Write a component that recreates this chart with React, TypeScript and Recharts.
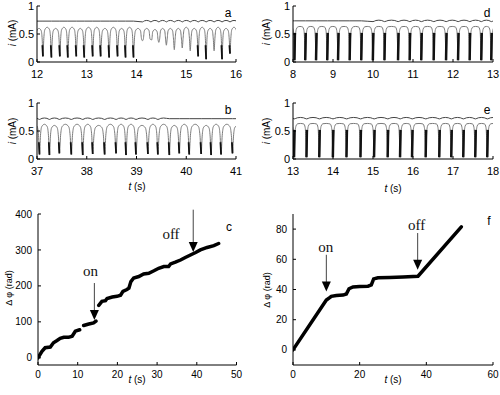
import React from 'react';
import { ComposedChart, Line, XAxis, YAxis, ReferenceLine, ReferenceDot } from 'recharts';

const SANS = '"Liberation Sans", Arial, sans-serif';
const SERIF = '"Liberation Serif", "Times New Roman", serif';

// ---- panel a: current traces, t 12-16 s
const aTroughs = [11.96, 12.12, 12.29, 12.46, 12.62, 12.79, 12.95, 13.12, 13.28, 13.45, 13.62, 13.78, 13.94,
  14.12, 14.29, 14.45, 14.6, 14.76, 14.92, 15.08, 15.24, 15.4, 15.56, 15.72, 15.88, 16.04];
const aDepths = [0.1, 0.1, 0.08, 0.1, 0.08, 0.1, 0.08, 0.1, 0.1, 0.08, 0.1, 0.08, 0.08,
  0.38, 0.4, 0.35, 0.3, 0.22, 0.25, 0.2, 0.1, 0.05, 0.2, 0.05, 0.15, 0.1];
const aPeaks = [0.6, 0.62, 0.6, 0.62, 0.62, 0.6, 0.62, 0.62, 0.6, 0.62, 0.6, 0.62, 0.6,
  0.6, 0.58, 0.6, 0.6, 0.6, 0.62, 0.6, 0.62, 0.6, 0.62, 0.6, 0.62];
const aUpper = { level: 0.73, wiggleFrom: 14.0, wiggleTo: 17 };

// ---- panel b: t 37-41 s
const bTroughs = [36.85, 37.05, 37.25, 37.45, 37.69, 37.92, 38.12, 38.36, 38.59, 38.79, 38.99,
  39.23, 39.43, 39.66, 39.86, 40.06, 40.3, 40.5, 40.7, 40.93, 41.13];
const bDepths = [0.1, 0.08, 0.07, 0.1, 0.08, 0.07, 0.09, 0.08, 0.1, 0.07, 0.08,
  0.09, 0.08, 0.07, 0.1, 0.08, 0.09, 0.07, 0.08, 0.1, 0.08];
const bPeaks = [0.62, 0.62, 0.6, 0.62, 0.62, 0.62, 0.6, 0.62, 0.62, 0.62, 0.6,
  0.62, 0.62, 0.6, 0.62, 0.62, 0.6, 0.62, 0.62, 0.6];
const bUpper = { level: 0.72, wiggleFrom: 36, wiggleTo: 39.6 };

// ---- panel d: t 8-13 s
const dBars = [7.75, 8.04, 8.31, 8.58, 8.86, 9.13, 9.42, 9.71, 10.0, 10.29, 10.63, 10.92,
  11.21, 11.52, 11.83, 12.13, 12.42, 12.71, 12.96, 13.25];
const dUpper = { level: 0.735, wiggleFrom: 10.0, wiggleTo: 14 };

// ---- panel e: t 13-18 s
const eBars = [12.72, 13.03, 13.34, 13.66, 14.0, 14.34, 14.69, 15.03, 15.37, 15.68, 15.98,
  16.32, 16.66, 16.96, 17.26, 17.56, 17.86, 18.16];
const eUpper = { level: 0.73, wiggleFrom: 12, wiggleTo: 19 };

// ---- panel c: phase difference
const cTime = [0, 1, 1.8, 3.1, 3.9, 4.8, 5.6, 6.5, 7.7, 8.6, 9.4, 10.5, 11, 11.5, 12.8, 14, 14.6, 15, 15.3, 16.1,
  17, 17.4, 18.7, 19.9, 20.8, 21.4, 22.4, 22.9, 23.4, 24.1, 25.4, 26.6, 27.9, 29.2, 30.4, 31.7, 32.9,
  33.4, 34.6, 35.9, 37.1, 38.4, 39.7, 40.9, 42.6, 44.3, 45.5];
const cPhase = [0, 18, 28, 30, 42, 48, 54, 57, 57, 60, 74, 78, null, 90, 94, 97, 102, null, 146, 157,
  159, 165, 169, 171, 174, 185, 190, 194, 212, 222, 226, 233, 235, 242, 249, 254, 254,
  261, 266, 272, 279, 286, 293, 300, 307, 312, 318];

// ---- panel f
const fTime = [0, 10, 11, 11.5, 13, 15, 16, 16.8, 18, 20, 22.5, 23.5, 24.2, 25.5, 29, 33, 37.5, 50.5];
const fPhase = [0, 33, 34.6, 35.5, 36, 36.3, 37, 40.5, 41.7, 42, 42.2, 43, 47, 47.8, 48, 48.3, 48.8, 81.5];

const currentTicks = [0, 0.5, 1];
const currentTickLabels = ['0', '0.5', '1'];

type Pt = { t: number; v: number | null };

// arch-shaped cycles between troughs (panels a, b)
function archTrace(troughs: number[], depths: number[], peaks: number[]): Pt[] {
  const fr = [0.1, 0.22, 0.5, 0.78, 0.9];
  const lv = [0.68, 0.93, 1, 0.93, 0.68];
  const out: Pt[] = [];
  for (let i = 0; i < troughs.length; i++) {
    out.push({ t: troughs[i], v: depths[i] });
    if (i === troughs.length - 1) break;
    const p = troughs[i + 1] - troughs[i];
    fr.forEach((f, k) => out.push({ t: troughs[i] + f * p, v: peaks[i] * lv[k] }));
  }
  return out;
}

function spikeTrace(troughs: number[], depths: number[]): Pt[] {
  const out: Pt[] = [];
  troughs.forEach((t, i) => {
    if (depths[i] > 0.15) return;
    out.push({ t: t - 0.012, v: 0.3 }, { t, v: depths[i] }, { t, v: null });
  });
  return out;
}

// plateau cycles with fast bursts (panels d, e)
function plateauTrace(bars: number[]): Pt[] {
  const out: Pt[] = [];
  for (let i = 0; i < bars.length; i++) {
    const tb = bars[i];
    out.push({ t: tb, v: 0.03 });
    if (i === bars.length - 1) break;
    const nx = bars[i + 1];
    out.push(
      { t: tb + 0.02, v: 0.45 }, { t: tb + 0.045, v: 0.59 }, { t: tb + 0.09, v: 0.63 },
      { t: (tb + nx) / 2, v: 0.635 }, { t: nx - 0.07, v: 0.625 }, { t: nx - 0.035, v: 0.56 },
      { t: nx - 0.015, v: 0.3 },
    );
  }
  return out;
}

function burstTrace(bars: number[]): Pt[] {
  const out: Pt[] = [];
  bars.forEach((t) => out.push({ t: t - 0.004, v: 0.03 }, { t: t + 0.008, v: 0.52 }, { t, v: null }));
  return out;
}

function upperTrace(times: number[], u: { level: number; wiggleFrom: number; wiggleTo: number }): Pt[] {
  const out: Pt[] = [];
  for (let i = 0; i < times.length - 1; i++) {
    const t = times[i], p = times[i + 1] - t;
    if (t >= u.wiggleFrom && t < u.wiggleTo) {
      out.push({ t, v: u.level - 0.014 }, { t: t + p * 0.25, v: u.level + 0.006 },
        { t: t + p * 0.5, v: u.level + 0.012 }, { t: t + p * 0.75, v: u.level + 0.006 });
    } else {
      out.push({ t, v: u.level });
    }
  }
  out.push({ t: times[times.length - 1], v: u.level });
  return out;
}

const toPts = (ts: number[], vs: (number | null)[]): Pt[] => ts.map((t, i) => ({ t, v: vs[i] }));

const Arrowhead = (props: any) => {
  const { cx, cy } = props;
  return <path d={`M${cx - 4.5},${cy - 10} L${cx + 4.5},${cy - 10} L${cx},${cy} Z`} fill="#000" />;
};

const labelShape = (text: string) => (props: any) => (
  <text x={props.cx} y={props.cy} textAnchor="middle" dominantBaseline="middle"
    fontFamily={SERIF} fontSize={15} fill="#111">{text}</text>
);

function Panel(props: {
  left: number; top: number; w: number; h: number;
  xDomain: number[]; xTicks: number[]; yDomain: number[]; yTicks: number[];
  yFormat?: (v: number) => string; font: number; xMargin: number; yMargin: number;
  children: React.ReactNode;
}) {
  const YW = 34, XH = 26, MT = 6, MR = 8;
  const { left, top, w, h, xDomain, xTicks, yDomain, yTicks, font } = props;
  const tick = { fill: '#000', fontSize: font, fontFamily: SANS };
  return (
    <div style={{ position: 'absolute', left: left - YW, top: top - MT }}>
      <ComposedChart width={YW + w + MR} height={MT + h + XH} margin={{ top: MT, right: MR, bottom: 0, left: 0 }}>
        <XAxis xAxisId="x" type="number" dataKey="t" domain={xDomain} ticks={xTicks} interval={0}
          allowDataOverflow height={XH} tickSize={-3} tickMargin={props.xMargin} stroke="#000" tick={tick} />
        <XAxis xAxisId="xt" orientation="top" type="number" dataKey="t" domain={xDomain} ticks={xTicks}
          interval={0} allowDataOverflow height={0} tickSize={-3} tick={false} stroke="#000" />
        <YAxis yAxisId="y" type="number" domain={yDomain} ticks={yTicks} interval={0} allowDataOverflow
          width={YW} tickSize={-3} tickMargin={props.yMargin} stroke="#000" tick={tick}
          tickFormatter={props.yFormat} />
        <YAxis yAxisId="yr" orientation="right" type="number" domain={yDomain} ticks={yTicks} interval={0}
          allowDataOverflow width={0} tickSize={-3} tick={false} stroke="#000" />
        {props.children}
      </ComposedChart>
    </div>
  );
}

const currentFmt = (v: number) => currentTickLabels[currentTicks.indexOf(v)] ?? String(v);

function CurrentPanel(props: { left: number; top: number; w: number; xDomain: number[]; xTicks: number[];
  main: Pt[]; dark: Pt[]; upper: Pt[]; darkWidth: number }) {
  return (
    <Panel left={props.left} top={props.top} w={props.w} h={56} xDomain={props.xDomain} xTicks={props.xTicks}
      yDomain={[0, 1]} yTicks={currentTicks} yFormat={currentFmt} font={11} xMargin={11} yMargin={6}>
      <Line xAxisId="x" yAxisId="y" data={props.upper} dataKey="v" type="monotone" stroke="#444"
        strokeWidth={1} dot={false} isAnimationActive={false} />
      <Line xAxisId="x" yAxisId="y" data={props.main} dataKey="v" type="monotone" stroke="#7a7a7a"
        strokeWidth={1} dot={false} isAnimationActive={false} />
      <Line xAxisId="x" yAxisId="y" data={props.dark} dataKey="v" type="linear" stroke="#111"
        strokeWidth={props.darkWidth} dot={false} isAnimationActive={false} connectNulls={false} />
    </Panel>
  );
}

const txt = (x: number, y: number, s: React.ReactNode, size: number, rotate = false) => (
  <div style={{
    position: 'absolute', left: x, top: y, transform: `translate(-50%,-50%)${rotate ? ' rotate(-90deg)' : ''}`,
    fontFamily: SANS, fontSize: size, whiteSpace: 'nowrap', color: '#000', lineHeight: 1,
  }}>{s}</div>
);

export default function App() {
  const iLabel = <span><i>i</i> (mA)</span>;
  const tLabel = <span><i>t</i> (s)</span>;
  return (
    <div style={{ position: 'absolute', left: 0, top: 0, width: 500, height: 395, background: '#fff', overflow: 'hidden' }}>
      <CurrentPanel left={37} top={6} w={199} xDomain={[12, 16]} xTicks={[12, 13, 14, 15, 16]}
        main={archTrace(aTroughs, aDepths, aPeaks)} dark={spikeTrace(aTroughs, aDepths)}
        upper={upperTrace(aTroughs, aUpper)} darkWidth={1.8} />
      <CurrentPanel left={37} top={103} w={199} xDomain={[37, 41]} xTicks={[37, 38, 39, 40, 41]}
        main={archTrace(bTroughs, bDepths, bPeaks)} dark={spikeTrace(bTroughs, bDepths)}
        upper={upperTrace(bTroughs, bUpper)} darkWidth={1.8} />
      <CurrentPanel left={293} top={6} w={200} xDomain={[8, 13]} xTicks={[8, 9, 10, 11, 12, 13]}
        main={plateauTrace(dBars)} dark={burstTrace(dBars)} upper={upperTrace(dBars, dUpper)} darkWidth={2.5} />
      <CurrentPanel left={293} top={103} w={200} xDomain={[13, 18]} xTicks={[13, 14, 15, 16, 17, 18]}
        main={plateauTrace(eBars)} dark={burstTrace(eBars)} upper={upperTrace(eBars, eUpper)} darkWidth={2.5} />

      <Panel left={37.5} top={214} w={198.5} h={151} xDomain={[0, 50]} xTicks={[0, 10, 20, 30, 40, 50]}
        yDomain={[-20, 400]} yTicks={[0, 100, 200, 300, 400]} font={10} xMargin={9} yMargin={9}>
        <Line xAxisId="x" yAxisId="y" data={toPts(cTime, cPhase)} dataKey="v" type="linear" stroke="#000"
          strokeWidth={3.5} strokeLinecap="round" dot={false} isAnimationActive={false} connectNulls={false} />
        <ReferenceLine xAxisId="x" yAxisId="y" segment={[{ x: 14.2, y: 208 }, { x: 14.2, y: 110 }]} stroke="#444" ifOverflow="visible" />
        <ReferenceDot xAxisId="x" yAxisId="y" x={14.2} y={105} shape={Arrowhead} ifOverflow="visible" />
        <ReferenceDot xAxisId="x" yAxisId="y" x={13.2} y={236} shape={labelShape('on')} ifOverflow="visible" />
        <ReferenceLine xAxisId="x" yAxisId="y" segment={[{ x: 39.1, y: 412 }, { x: 39.1, y: 300 }]} stroke="#444" ifOverflow="visible" />
        <ReferenceDot xAxisId="x" yAxisId="y" x={39.1} y={294} shape={Arrowhead} ifOverflow="visible" />
        <ReferenceDot xAxisId="x" yAxisId="y" x={33.5} y={341} shape={labelShape('off')} ifOverflow="visible" />
      </Panel>

      <Panel left={293} top={214} w={200} h={151} xDomain={[0, 60]} xTicks={[0, 20, 40, 60]}
        yDomain={[-10, 90]} yTicks={[0, 20, 40, 60, 80]} font={10} xMargin={9} yMargin={9}>
        <Line xAxisId="x" yAxisId="y" data={toPts(fTime, fPhase)} dataKey="v" type="linear" stroke="#000"
          strokeWidth={3.5} strokeLinecap="round" dot={false} isAnimationActive={false} />
        <ReferenceLine xAxisId="x" yAxisId="y" segment={[{ x: 10, y: 63 }, { x: 10, y: 44 }]} stroke="#444" ifOverflow="visible" />
        <ReferenceDot xAxisId="x" yAxisId="y" x={10} y={38.6} shape={Arrowhead} ifOverflow="visible" />
        <ReferenceDot xAxisId="x" yAxisId="y" x={9.8} y={67.3} shape={labelShape('on')} ifOverflow="visible" />
        <ReferenceLine xAxisId="x" yAxisId="y" segment={[{ x: 37.4, y: 77.4 }, { x: 37.4, y: 58 }]} stroke="#444" ifOverflow="visible" />
        <ReferenceDot xAxisId="x" yAxisId="y" x={37.4} y={53} shape={Arrowhead} ifOverflow="visible" />
        <ReferenceDot xAxisId="x" yAxisId="y" x={37.1} y={81.7} shape={labelShape('off')} ifOverflow="visible" />
      </Panel>

      {txt(13, 33, iLabel, 10, true)}
      {txt(13, 131, iLabel, 10, true)}
      {txt(267, 32, iLabel, 10, true)}
      {txt(267, 131, iLabel, 10, true)}
      {txt(137, 187, tLabel, 10)}
      {txt(393, 189, tLabel, 10)}
      {txt(137, 380, tLabel, 10)}
      {txt(393, 380, tLabel, 10)}
      {txt(9, 288, 'Δ φ (rad)', 9, true)}
      {txt(267, 290, 'Δ φ (rad)', 9, true)}
      {txt(228, 13, 'a', 12)}
      {txt(228, 110, 'b', 12)}
      {txt(229, 227, 'c', 12)}
      {txt(487, 13, 'd', 12)}
      {txt(487, 110, 'e', 12)}
      {txt(489, 221, 'f', 12)}
    </div>
  );
}
